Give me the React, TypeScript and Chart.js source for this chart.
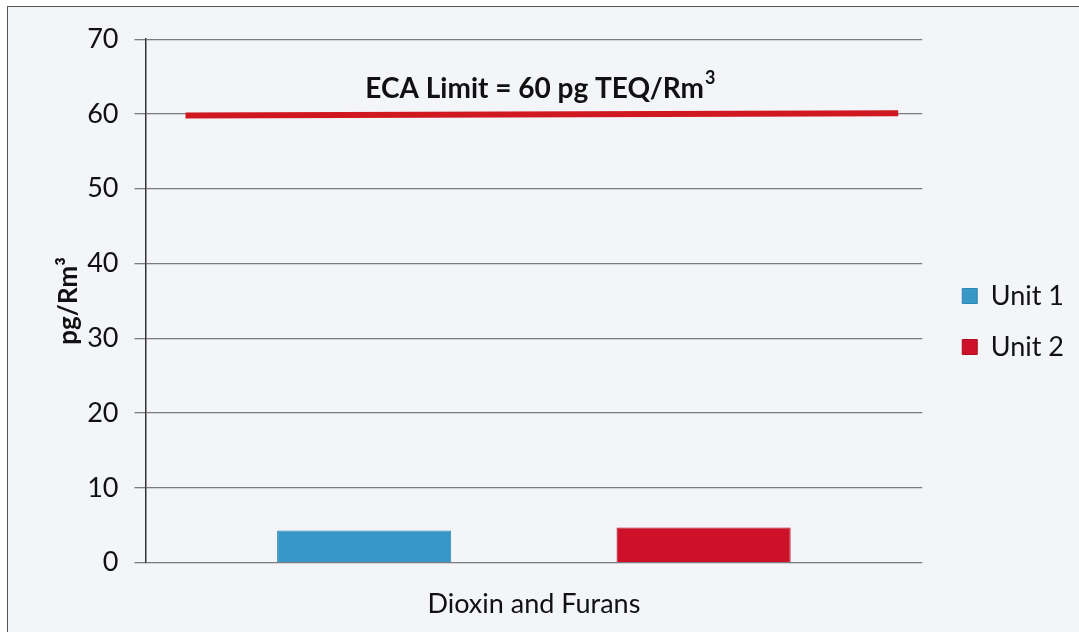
import { useEffect, useRef } from "react";
import { Chart, registerables } from "chart.js";

Chart.register(...registerables);

const categories = ["Dioxin and Furans"];
const seriesNames = ["Unit 1", "Unit 2"];
const unit1Values = [4.3];
const unit2Values = [4.7];
const limitValues = [59.8, 60.1];
// start / end of the limit line, in category-index units (category spans -0.5 .. 0.5)
const limitSpan = [-0.4485, 0.469];
const yTicks = [0, 10, 20, 30, 40, 50, 60, 70];
const limitLabel = "ECA Limit = 60 pg TEQ/Rm";
const limitLabelSup = "3";
const limitLabelValue = 63.3;
const yTitle = "pg/Rm³";

const FONT = "Lato, 'Open Sans', sans-serif";

const limitPlugin = {
  id: "limitLine",
  afterLayout(chart: any) {
    const l = chart.legend;
    if (l) {
      l.top -= 20;
      l.bottom -= 20;
      l.left += 16;
      l.right += 16;
    }
  },
  afterDatasetsDraw(chart: any) {
    const { ctx, chartArea, scales } = chart;
    const xs = scales.x;
    const ys = scales.y;
    ctx.save();
    ctx.strokeStyle = "#cf1820";
    ctx.lineWidth = 6;
    ctx.lineCap = "butt";
    ctx.beginPath();
    limitSpan.forEach((v, i) => {
      const px = xs.getPixelForValue(v);
      const py = ys.getPixelForValue(limitValues[i]);
      if (i === 0) ctx.moveTo(px, py);
      else ctx.lineTo(px, py);
    });
    ctx.stroke();
    const y = ys.getPixelForValue(limitLabelValue);
    const cx = (chartArea.left + chartArea.right) / 2 + 6;
    ctx.fillStyle = "#111";
    ctx.textBaseline = "middle";
    ctx.font = `bold 28px ${FONT}`;
    const w1 = ctx.measureText(limitLabel).width;
    ctx.font = `bold 18px ${FONT}`;
    const w2 = ctx.measureText(limitLabelSup).width;
    const x0 = cx - (w1 + w2) / 2;
    ctx.textAlign = "left";
    ctx.font = `bold 28px ${FONT}`;
    ctx.fillText(limitLabel, x0, y);
    ctx.font = `bold 18px ${FONT}`;
    ctx.fillText(limitLabelSup, x0 + w1 + 1, y - 11);
    ctx.restore();
  },
};

export default function App() {
  const ref = useRef<HTMLCanvasElement | null>(null);
  useEffect(() => {
    if (!ref.current) return;
    const chart = new Chart(ref.current, {
      type: "bar",
      data: {
        labels: categories,
        datasets: [
          {
            label: seriesNames[0],
            data: unit1Values,
            backgroundColor: "#3798c8",
            borderColor: "#2f86b0",
            borderWidth: 1,
            categoryPercentage: 0.874,
            barPercentage: 0.513,
          },
          {
            label: seriesNames[1],
            data: unit2Values,
            backgroundColor: "#cc1128",
            borderColor: "#b00d20",
            borderWidth: 1,
            categoryPercentage: 0.874,
            barPercentage: 0.513,
          },
        ],
      },
      options: {
        animation: false,
        responsive: false,
        maintainAspectRatio: false,
        layout: { padding: { left: 45, top: 31, right: 22, bottom: -11 } },
        plugins: {
          title: { display: false },
          tooltip: { enabled: false },
          legend: {
            position: "right",
            labels: {
              boxWidth: 15,
              boxHeight: 15,
              padding: 24,
              color: "#111",
              font: { family: FONT, size: 27 },
            },
          },
        },
        scales: {
          x: {
            grid: { display: false, drawTicks: false },
            border: { display: false },
            ticks: {
              color: "#111",
              font: { family: FONT, size: 27 },
              padding: 25,
            },
          },
          y: {
            min: 0,
            max: 70,
            afterBuildTicks: (axis: any) => {
              axis.ticks = yTicks.map((v) => ({ value: v }));
            },
            grid: { color: "#7a7a80", lineWidth: 1.3, tickLength: 11 },
            border: { display: true, color: "#333", width: 1.5 },
            ticks: {
              color: "#111",
              font: { family: FONT, size: 27 },
              padding: 16,
            },
            title: {
              display: true,
              text: yTitle,
              color: "#111",
              font: { family: FONT, size: 26, weight: "bold" },
              padding: { top: 0, bottom: -13 },
            },
          },
        },
      },
      plugins: [limitPlugin],
    });
    return () => chart.destroy();
  }, []);
  return (
    <div
      style={{
        position: "absolute",
        left: 7,
        top: 6,
        width: 1072,
        height: 625,
        borderLeft: "1.5px solid #555",
        borderTop: "1.5px solid #555",
        background: "#f3f5f9",
        overflow: "hidden",
      }}
    >
      <canvas ref={ref} width={1072} height={627} style={{ display: "block" }} />
    </div>
  );
}
